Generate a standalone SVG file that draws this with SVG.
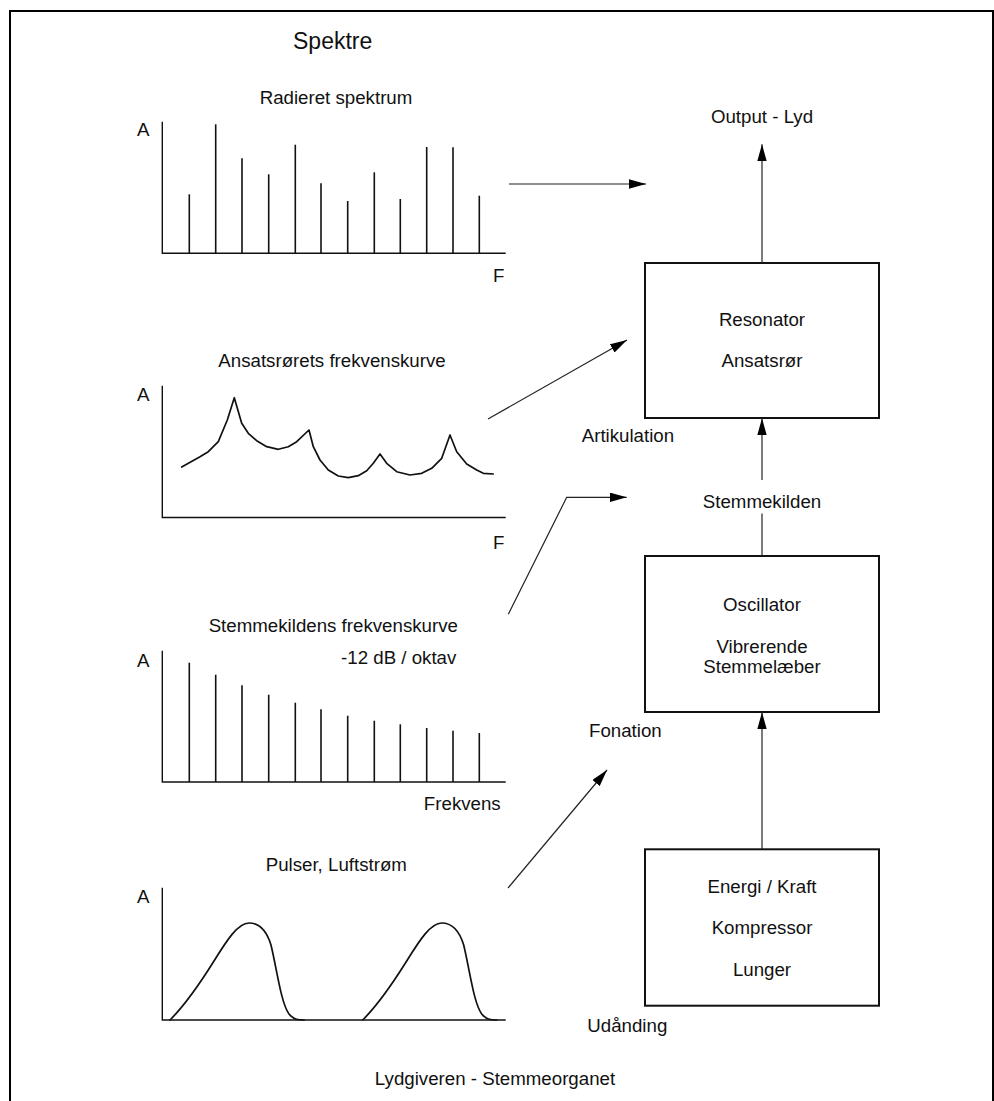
<svg xmlns="http://www.w3.org/2000/svg" width="994" height="1101" viewBox="0 0 994 1101">
<defs>
<marker id="ah" markerUnits="userSpaceOnUse" markerWidth="18" markerHeight="10" refX="17" refY="4.75" orient="auto">
<path d="M0,0 L17,4.75 L0,9.5 z" fill="#000"/>
</marker>
<style>
text{font-family:"Liberation Sans",Arial,sans-serif;font-size:18.7px;fill:#111}
.c{text-anchor:middle}
.ax{fill:none;stroke:#111;stroke-width:1.4}
.bar{stroke:#111;stroke-width:1.6}
.crv{fill:none;stroke:#111;stroke-width:1.7;stroke-linejoin:round;stroke-linecap:round}
.box{fill:#fff;stroke:#111;stroke-width:2}
.cn{fill:none;stroke:#222;stroke-width:1.2}
</style>
</defs>
<rect width="994" height="1101" fill="#fff"/>
<path d="M10,1101 V11 H993 V1101" fill="none" stroke="#000" stroke-width="2"/>
<text x="293" y="48.5" style="font-size:23px">Spektre</text>

<g id="spectrum-radiated">
<text class="c" x="336" y="104">Radieret spektrum</text>
<text x="137" y="136">A</text>
<path class="ax" d="M162.3,121.7 V253.3 H505.7"/>
<g class="bar">
<line x1="189.3" y1="253.3" x2="189.3" y2="194.3"/>
<line x1="215.7" y1="253.3" x2="215.7" y2="124.3"/>
<line x1="242" y1="253.3" x2="242" y2="158.3"/>
<line x1="268.7" y1="253.3" x2="268.7" y2="174.3"/>
<line x1="295.3" y1="253.3" x2="295.3" y2="144.7"/>
<line x1="321" y1="253.3" x2="321" y2="183.3"/>
<line x1="347.7" y1="253.3" x2="347.7" y2="201"/>
<line x1="374.3" y1="253.3" x2="374.3" y2="172.3"/>
<line x1="400.3" y1="253.3" x2="400.3" y2="199"/>
<line x1="426.7" y1="253.3" x2="426.7" y2="147"/>
<line x1="453" y1="253.3" x2="453" y2="147.3"/>
<line x1="479.3" y1="253.3" x2="479.3" y2="195.7"/>
</g>
<text x="493" y="281.7">F</text>
</g>

<g id="spectrum-tract">
<text class="c" x="332" y="367">Ansatsrørets frekvenskurve</text>
<text x="137" y="401">A</text>
<path class="ax" d="M162.3,385.7 V517.5 H505.7"/>
<polyline class="crv" points="181.7,467 200,456.7 208.3,451.7 218.3,441.7 227.3,420 234.3,397.7 241.7,423.3 248.3,433.3 256.7,440.7 266.7,446.7 278.3,449.3 288.3,446.7 296.7,441.7 309,430 313.3,446.7 320,460 328.3,470 338.3,476 348.3,477.7 358.3,475.7 366.7,470.7 373.3,463.3 380,454 386.7,463.3 396.7,471.7 410,475 421.7,473.3 431.7,468.3 441.7,458.3 450,435 456.7,451.7 466.7,464 476.7,470 483.3,473.3 493.3,474"/>
<text x="493" y="549.3">F</text>
</g>

<g id="spectrum-source">
<text class="c" x="333.3" y="631.7">Stemmekildens frekvenskurve</text>
<text class="c" x="398.7" y="664.3">-12 dB / oktav</text>
<text x="137" y="666.7">A</text>
<path class="ax" d="M162.3,650.7 V782 H505.7"/>
<g class="bar">
<line x1="189.3" y1="782" x2="189.3" y2="662.7"/>
<line x1="215.7" y1="782" x2="215.7" y2="674.7"/>
<line x1="242" y1="782" x2="242" y2="685.3"/>
<line x1="268.7" y1="782" x2="268.7" y2="694.7"/>
<line x1="295.3" y1="782" x2="295.3" y2="702.7"/>
<line x1="321" y1="782" x2="321" y2="709.3"/>
<line x1="347.7" y1="782" x2="347.7" y2="715.7"/>
<line x1="374.3" y1="782" x2="374.3" y2="720.7"/>
<line x1="400.3" y1="782" x2="400.3" y2="724.3"/>
<line x1="426.7" y1="782" x2="426.7" y2="728"/>
<line x1="453" y1="782" x2="453" y2="730.7"/>
<line x1="479.3" y1="782" x2="479.3" y2="733"/>
</g>
<text class="c" x="462.3" y="810">Frekvens</text>
</g>

<g id="pulses">
<text class="c" x="336.3" y="870.7">Pulser, Luftstrøm</text>
<text x="137" y="903.3">A</text>
<path class="ax" d="M162.3,887.7 V1020 H505.7"/>
<path id="pulse1" class="crv" d="M170,1020 C184,1006 199,985 214,961 C227,940 238,923 249,923 C261,923 267,932 271,945 C277,970 281,1003 289,1014 C294,1020 299,1020 304,1020"/>
<path class="crv" transform="translate(192.7,0)" d="M170,1020 C184,1006 199,985 214,961 C227,940 238,923 249,923 C261,923 267,932 271,945 C277,970 281,1003 289,1014 C294,1020 299,1020 304,1020"/>
</g>

<g id="resonator">
<rect class="box" x="645" y="263" width="234" height="155"/>
<text class="c" x="762" y="325.7">Resonator</text>
<text class="c" x="762" y="366.7">Ansatsrør</text>
</g>
<g id="oscillator">
<rect class="box" x="645" y="556" width="234" height="156"/>
<text class="c" x="762" y="610.7">Oscillator</text>
<text class="c" x="762" y="652.7">Vibrerende</text>
<text class="c" x="762" y="673.3">Stemmelæber</text>
</g>
<g id="compressor">
<rect class="box" x="645" y="849.3" width="234" height="156.4"/>
<text class="c" x="762" y="893.3">Energi / Kraft</text>
<text class="c" x="762" y="934.3">Kompressor</text>
<text class="c" x="762" y="976">Lunger</text>
</g>

<g id="labels">
<text class="c" x="762" y="122.7">Output - Lyd</text>
<text x="581.7" y="441.7">Artikulation</text>
<text class="c" x="762" y="508.3">Stemmekilden</text>
<text x="589" y="736.7">Fonation</text>
<text x="587.3" y="1031.7">Udånding</text>
<text class="c" x="495" y="1085">Lydgiveren - Stemmeorganet</text>
</g>

<g id="connectors">
<line class="cn" x1="509" y1="184" x2="646" y2="184" marker-end="url(#ah)"/>
<line class="cn" x1="488" y1="419" x2="627" y2="340" marker-end="url(#ah)"/>
<polyline class="cn" points="508.3,614.3 566.7,497.3 626.7,497.3" marker-end="url(#ah)"/>
<line class="cn" x1="508" y1="888" x2="607" y2="770" marker-end="url(#ah)"/>
<line class="cn" x1="762" y1="263" x2="762" y2="144.3" marker-end="url(#ah)"/>
<line class="cn" x1="762" y1="556" x2="762" y2="513.5"/>
<line class="cn" x1="762" y1="480" x2="762" y2="418.3" marker-end="url(#ah)"/>
<line class="cn" x1="762" y1="849.3" x2="762" y2="712.3" marker-end="url(#ah)"/>
</g>
</svg>
